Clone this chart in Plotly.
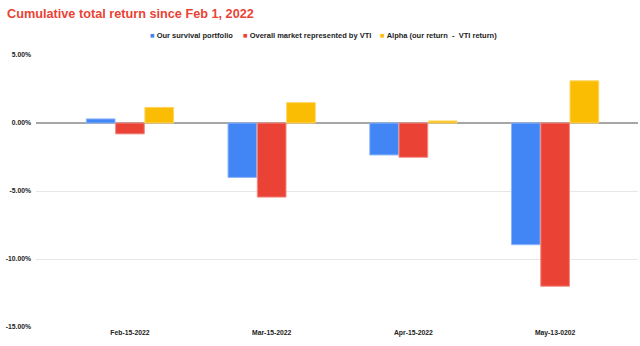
import plotly.graph_objects as go

categories = ["Feb-15-2022", "Mar-15-2022", "Apr-15-2022", "May-13-0202"]
survival = [0.30, -4.00, -2.35, -8.95]
vti = [-0.80, -5.45, -2.52, -12.00]
alpha = [1.15, 1.50, 0.15, 3.10]
series_names = ["Our survival portfolio", "Overall market represented by VTI",
                "Alpha (our return  -  VTI return)"]
tick_vals = [5, 0, -5, -10, -15]
tick_text = ["5.00%", "0.00%", "-5.00%", "-10.00%", "-15.00%"]

FONT = "Liberation Sans, Arial"
colors = ["#4285F4", "#EA4335", "#FBBC04"]
edges = ["#8fb5f8", "#f28b82", "#fdd663"]

fig = go.Figure()
xs = list(range(len(categories)))
for name, vals, col, edge in zip(series_names, [survival, vti, alpha], colors, edges):
    fig.add_trace(go.Bar(
        x=xs, y=vals, name=name,
        marker=dict(color=col, line=dict(color=edge, width=1)),
    ))

# legend drawn as text (small square markers like the original)
L, W = 36, 602
legend_px = [148, 241, 378]
for name, col, px in zip(series_names, colors, legend_px):
    fig.add_annotation(
        x=(px - L) / W, y=(327 - 35) / 272, xref="paper", yref="paper",
        xanchor="left", yanchor="middle", showarrow=False,
        text='<span style="color:%s">■</span> <b>%s</b>' % (col, name.replace("  ", "&nbsp; ")),
        font=dict(family=FONT, size=7.5, color="#222222"),
    )

fig.update_layout(
    width=640, height=346,
    paper_bgcolor="white", plot_bgcolor="white",
    margin=dict(l=36, r=2, t=55, b=19),
    barmode="group", bargap=0.38, bargroupgap=0.02,
    showlegend=False,
    title=dict(text="<b>Cumulative total return since Feb 1, 2022</b>",
               font=dict(family=FONT, size=12.7, color="#EA4335"),
               x=0.011, xanchor="left", y=0.962, yanchor="middle"),
)
fig.update_xaxes(
    tickmode="array", tickvals=xs, ticktext=["<b>%s</b>" % c for c in categories],
    range=[-0.663, 3.585], showgrid=False, zeroline=False, showline=False,
    ticks="", tickfont=dict(family=FONT, size=6.8, color="#222222"),
)
fig.update_yaxes(
    range=[-15, 5], tickmode="array", tickvals=tick_vals,
    ticktext=["<b>%s</b>" % t for t in tick_text],
    showgrid=True, gridcolor="#e6e6e6", gridwidth=1,
    zeroline=True, zerolinecolor="#a6a6a6", zerolinewidth=1.5,
    tickfont=dict(family=FONT, size=6.8, color="#222222"), ticks="",
    ticklabelstandoff=4,
)
fig.write_html("out.html")
